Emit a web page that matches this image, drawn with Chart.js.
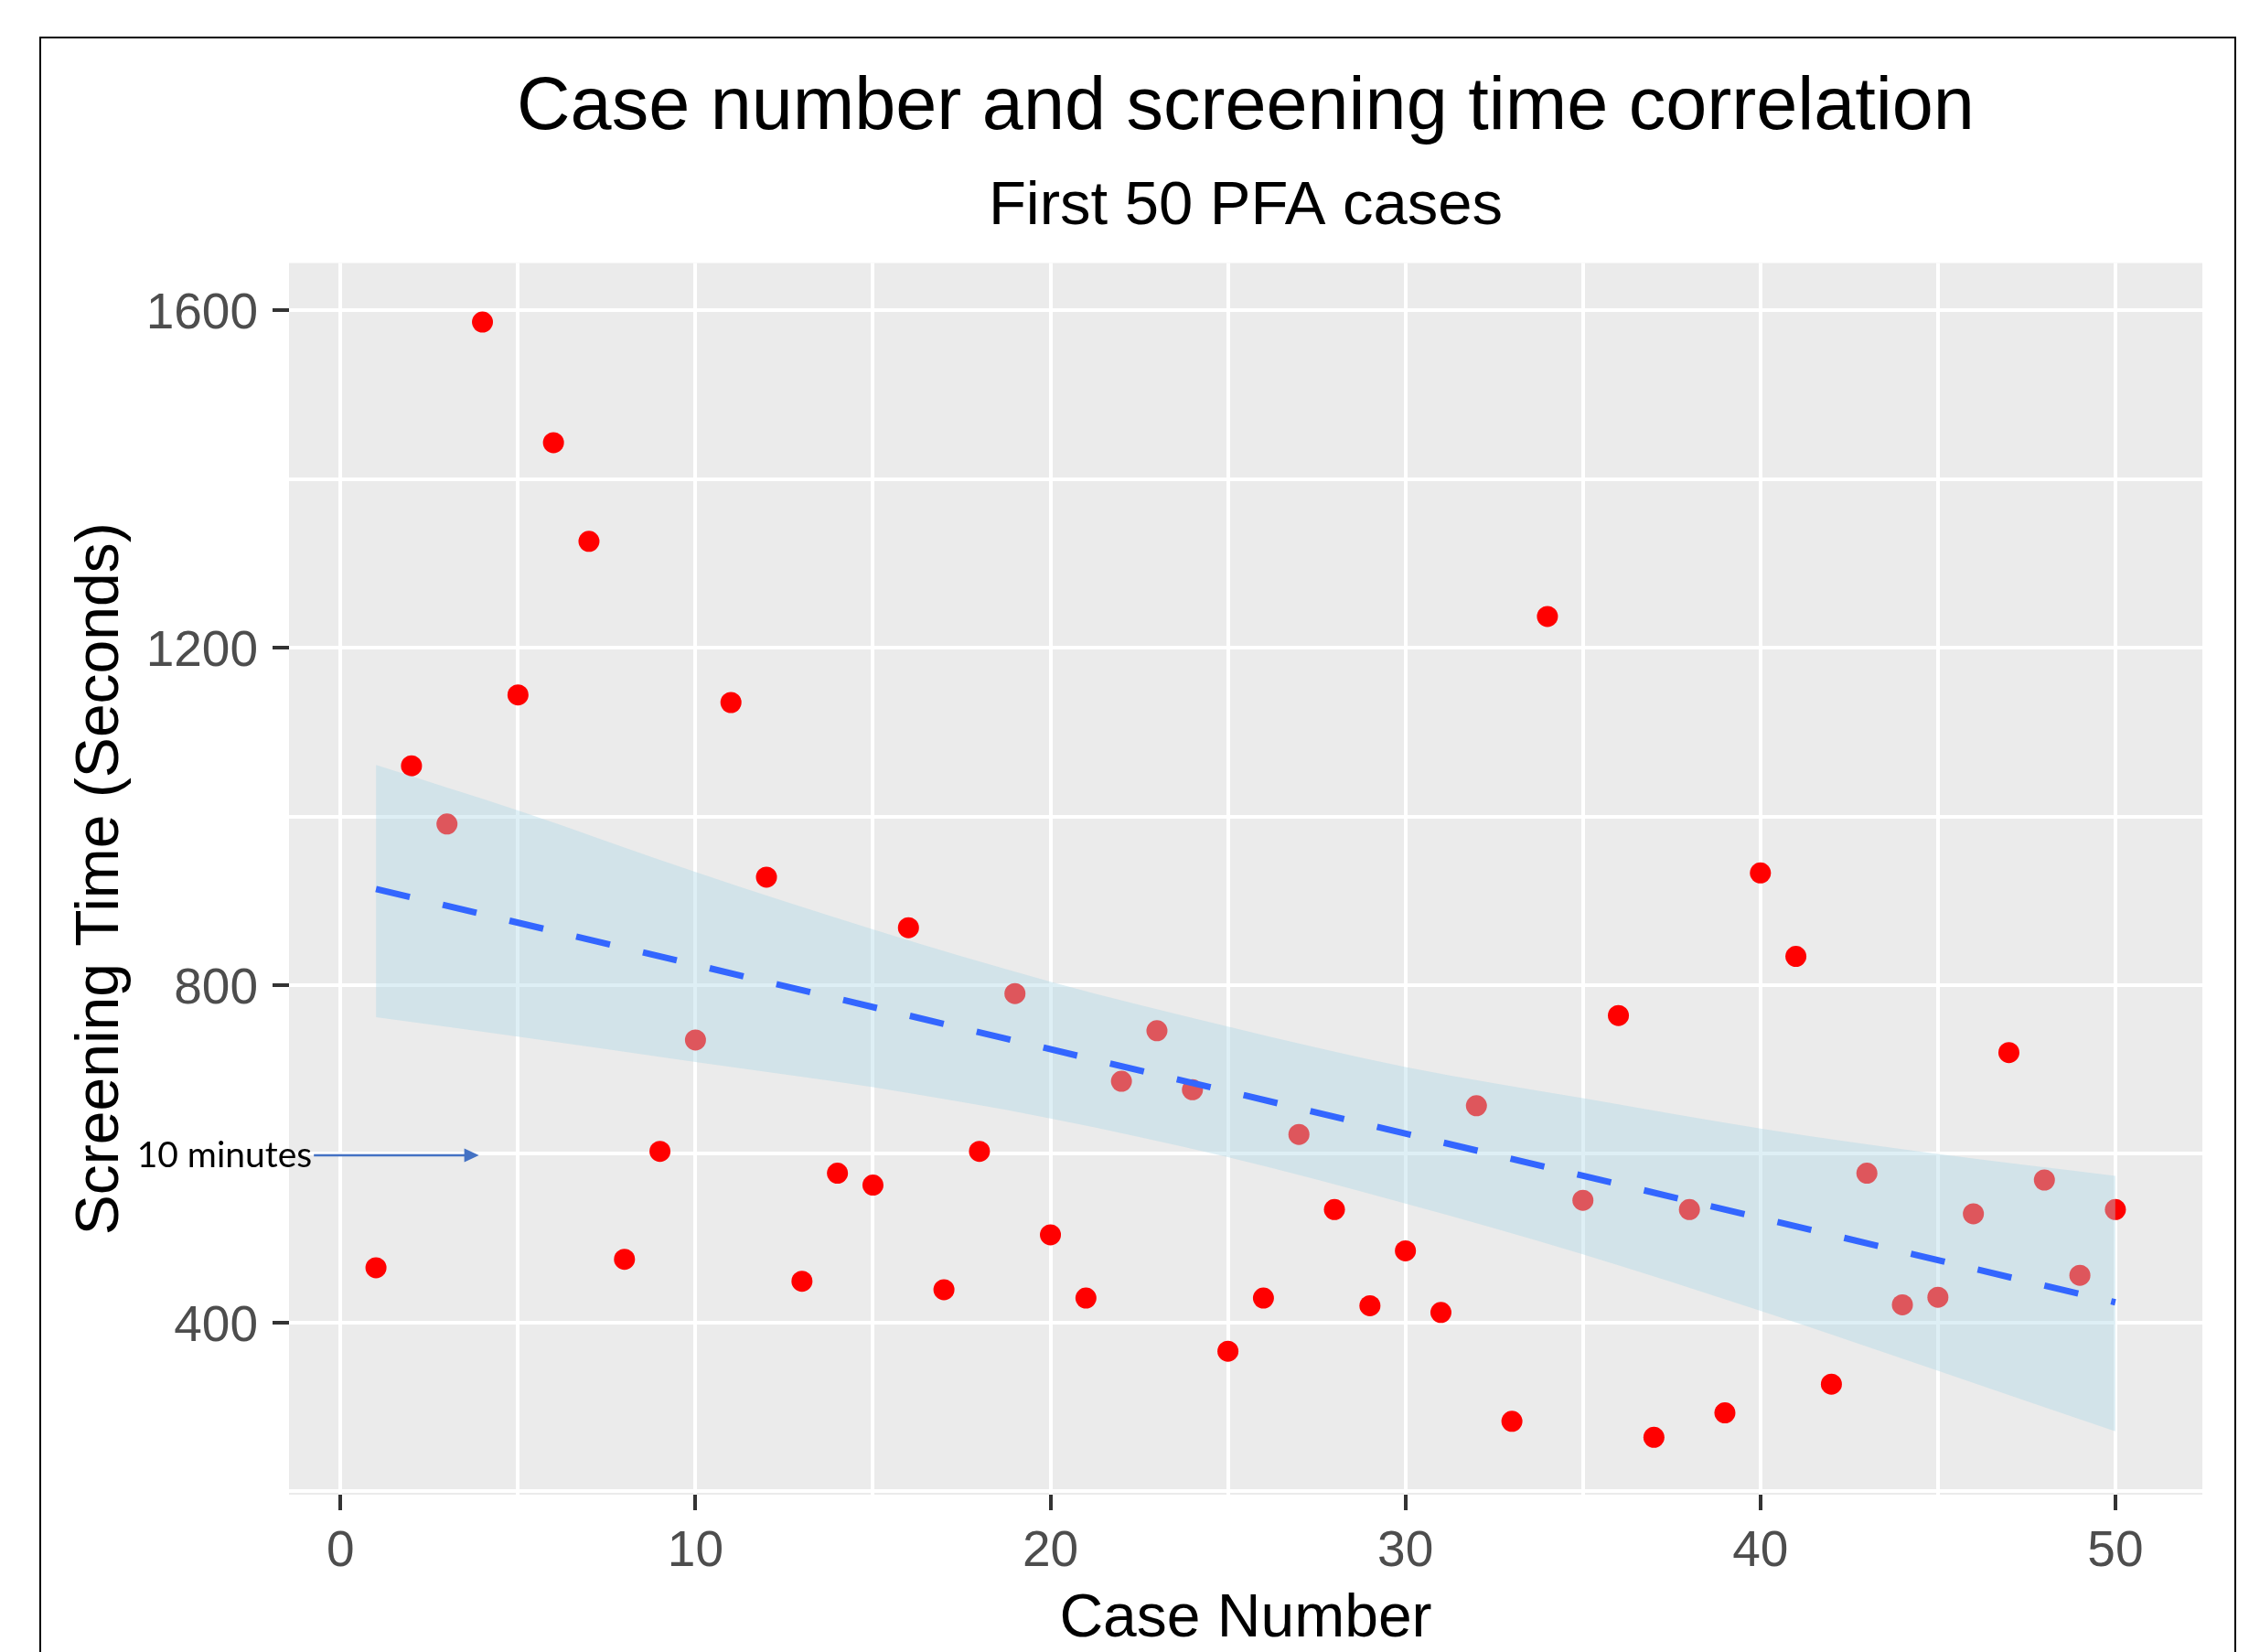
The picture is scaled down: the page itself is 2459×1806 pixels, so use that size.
<!DOCTYPE html>
<html>
<head>
<meta charset="utf-8">
<title>Case number and screening time correlation</title>
<script src="https://cdn.jsdelivr.net/npm/chart.js@4.4.1/dist/chart.umd.min.js"></script>
<style>
  html, body { margin: 0; padding: 0; background: #ffffff; }
  canvas { display: block; }
</style>
</head>
<body>
<canvas id="graficoCasos" width="2459" height="1806"></canvas>
<script>
// Case numbers and screening times (seconds)
const caseNumber = [1, 2, 3, 4, 5, 6, 7, 8, 9, 10,
  11, 12, 13, 14, 15, 16, 17, 18, 19, 20,
  21, 22, 23, 24, 25, 26, 27, 28, 29, 30,
  31, 32, 33, 34, 35, 36, 37, 38, 39, 40,
  41, 42, 43, 44, 45, 46, 47, 48, 49, 50];
const screeningTime = [465, 1060, 991, 1586, 1144, 1443, 1326, 475, 603, 735,
  1135, 928, 449, 577, 563, 868, 439, 603, 790, 504,
  429, 686, 746, 676, 366, 429, 623, 534, 420, 485,
  412, 657, 283, 1237, 545, 764, 264, 534, 293, 933,
  834, 327, 577, 421, 430, 529, 720, 569, 456, 534];

// confidence band of the linear fit, read at these case numbers
const bandX = [1, 5, 10, 15, 20, 25, 30, 35, 40, 45, 50];
const bandUpper = [1061, 1007, 934, 866, 804, 751, 703, 666, 630, 600, 574];
const bandLower = [762, 739, 709, 679, 642, 596, 541, 481, 414, 343, 271];

// linear fit (dashed line)
const fitX = [1, 50];
const fitY = [914, 424];

// axis ticks
const xTicks = [0, 5, 10, 15, 20, 25, 30, 35, 40, 45, 50];
const xLabels = [0, 10, 20, 30, 40, 50];
const yTicks = [200, 400, 600, 800, 1000, 1200, 1400, 1600];
const yLabels = [400, 800, 1200, 1600];

// note on the left
const noteText = '10 minutes';
const noteValue = 600;
const noteArrowFrom = -0.75;
const noteArrowTo = 3.9;

const fontFamily = "'Liberation Sans', Arial, sans-serif";

function toPoints(xs, ys) {
  return xs.map((x, i) => ({ x: x, y: ys[i] }));
}

const fondoYMarco = {
  id: 'fondoYMarco',
  beforeDraw(chart) {
    const { ctx, chartArea: a } = chart;
    ctx.save();
    ctx.fillStyle = '#FFFFFF';
    ctx.fillRect(0, 0, chart.width, chart.height);
    ctx.fillStyle = '#EBEBEB';
    ctx.fillRect(a.left, a.top, a.right - a.left, a.bottom - a.top);
    ctx.restore();
  },
  afterDraw(chart) {
    const ctx = chart.ctx;
    const x = chart.scales.x;
    const y = chart.scales.y;
    ctx.save();
    // black frame round the figure
    ctx.strokeStyle = '#000000';
    ctx.lineWidth = 2;
    ctx.strokeRect(44, 41, 2400, 2000);

    // "10 minutes" arrow
    const yPix = y.getPixelForValue(noteValue) + 1.5;
    const x0 = x.getPixelForValue(noteArrowFrom);
    const x1 = x.getPixelForValue(noteArrowTo);
    ctx.strokeStyle = '#4472C4';
    ctx.fillStyle = '#4472C4';
    ctx.lineWidth = 2.5;
    ctx.beginPath();
    ctx.moveTo(x0, yPix);
    ctx.lineTo(x1 - 14, yPix);
    ctx.stroke();
    ctx.beginPath();
    ctx.moveTo(x1, yPix);
    ctx.lineTo(x1 - 16, yPix - 7.5);
    ctx.lineTo(x1 - 16, yPix + 7.5);
    ctx.closePath();
    ctx.fill();

    ctx.fillStyle = '#000000';
    ctx.font = "39px Lato, 'Liberation Sans', sans-serif";
    ctx.textAlign = 'right';
    ctx.textBaseline = 'alphabetic';
    ctx.fillText(noteText, x0 - 2, yPix + 13);
    ctx.restore();
  }
};

const grafico = new Chart(document.getElementById('graficoCasos'), {
  type: 'scatter',
  data: {
    datasets: [
      {
        type: 'line',
        label: 'upper',
        data: toPoints(bandX, bandUpper),
        borderColor: 'transparent',
        borderWidth: 0,
        pointRadius: 0,
        cubicInterpolationMode: 'monotone',
        backgroundColor: 'rgba(173, 216, 230, 0.4)',
        fill: '+1',
        order: 2
      },
      {
        type: 'line',
        label: 'lower',
        data: toPoints(bandX, bandLower),
        borderColor: 'transparent',
        borderWidth: 0,
        pointRadius: 0,
        cubicInterpolationMode: 'monotone',
        fill: false,
        order: 2
      },
      {
        type: 'line',
        label: 'fit',
        data: toPoints(fitX, fitY),
        borderColor: '#3366FF',
        borderWidth: 7,
        borderDash: [38, 37],
        borderCapStyle: 'butt',
        pointRadius: 0,
        fill: false,
        order: 1
      },
      {
        type: 'scatter',
        label: 'Screening time',
        data: toPoints(caseNumber, screeningTime),
        backgroundColor: '#FF0000',
        borderColor: 'transparent',
        borderWidth: 0,
        pointRadius: 11.5,
        pointHoverRadius: 11.5,
        order: 3
      }
    ]
  },
  options: {
    responsive: false,
    devicePixelRatio: 1,
    animation: false,
    events: [],
    layout: { padding: { left: 0, right: 51, top: 0, bottom: 0 } },
    plugins: {
      legend: { display: false },
      tooltip: { enabled: false },
      title: {
        display: true,
        fullSize: false,
        text: 'Case number and screening time correlation',
        color: '#000000',
        font: { family: fontFamily, size: 81, weight: 'normal', lineHeight: 1 },
        padding: { top: 78, bottom: 0 }
      },
      subtitle: {
        display: true,
        fullSize: false,
        text: 'First 50 PFA cases',
        color: '#000000',
        font: { family: fontFamily, size: 67, weight: 'normal', lineHeight: 1 },
        padding: { top: 34, bottom: 27.5 }
      }
    },
    scales: {
      x: {
        type: 'linear',
        min: -1.45,
        max: 52.45,
        afterBuildTicks: scale => { scale.ticks = xTicks.map(v => ({ value: v })); },
        afterFit: scale => { scale.height = 172; },
        border: { display: false },
        grid: {
          color: '#FFFFFF',
          lineWidth: 4,
          tickLength: 17,
          tickWidth: 4,
          tickColor: c => xLabels.includes(c.tick.value) ? '#333333' : 'rgba(0,0,0,0)'
        },
        ticks: {
          autoSkip: false,
          maxRotation: 0,
          padding: 13,
          color: '#4D4D4D',
          font: { family: fontFamily, size: 55 },
          callback: v => xLabels.includes(v) ? String(v) : ''
        },
        title: {
          display: true,
          text: 'Case Number',
          color: '#000000',
          font: { family: fontFamily, size: 66, lineHeight: 1 },
          padding: { top: 0, bottom: 2 }
        }
      },
      y: {
        type: 'linear',
        min: 196,
        max: 1656,
        afterBuildTicks: scale => { scale.ticks = yTicks.map(v => ({ value: v })); },
        afterFit: scale => { scale.width = 316; },
        border: { display: false },
        grid: {
          color: '#FFFFFF',
          lineWidth: 4,
          tickLength: 18,
          tickWidth: 4,
          tickColor: c => yLabels.includes(c.tick.value) ? '#333333' : 'rgba(0,0,0,0)'
        },
        ticks: {
          autoSkip: false,
          padding: 16,
          labelOffset: 5,
          color: '#4D4D4D',
          font: { family: fontFamily, size: 55 },
          callback: v => yLabels.includes(v) ? String(v) : ''
        },
        title: {
          display: true,
          text: 'Screening Time (Seconds)',
          color: '#000000',
          font: { family: fontFamily, size: 66, lineHeight: 1 },
          padding: { top: 78, bottom: 0 }
        }
      }
    }
  },
  plugins: [fondoYMarco]
});
</script>
</body>
</html>
